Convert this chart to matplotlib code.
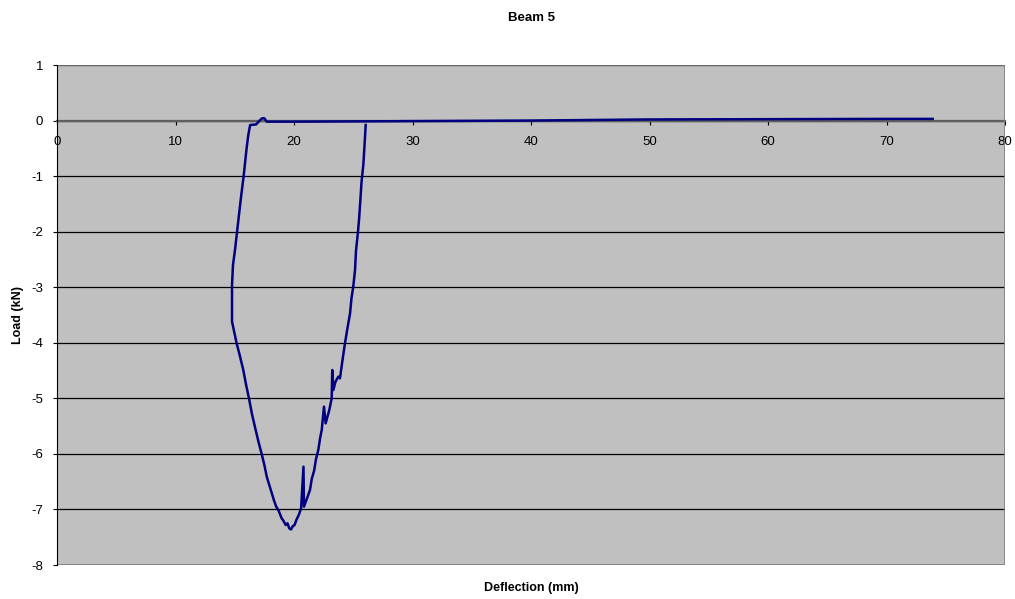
import matplotlib.pyplot as plt
from matplotlib.patches import Rectangle

plt.rcParams['font.family'] = ['Liberation Sans', 'DejaVu Sans']
plt.rcParams['axes.unicode_minus'] = False

# deflection (mm) / load (kN) in drawing order
defl = [26.05, 25.95, 25.85, 25.7, 25.6, 25.5, 25.4, 25.23, 25.15, 25.0, 24.85,
        24.73, 24.5, 24.3, 24.1, 23.88, 23.74, 23.5, 23.32, 23.23, 23.18, 22.98,
        22.67, 22.53, 22.34, 22.2, 22.05, 21.85, 21.7, 21.5, 21.35, 21.1, 20.84,
        20.8, 20.6, 20.4, 20.2, 20.05, 19.9, 19.75, 19.6, 19.45, 19.3, 19.1,
        18.96, 18.7, 18.5, 18.3, 18.0, 17.7, 17.5, 17.27, 17.0, 16.7, 16.45,
        16.2, 15.95, 15.72, 15.45, 15.16, 14.95, 14.77, 14.77, 14.85, 15.02,
        15.25, 15.5, 15.75, 16.0, 16.15, 16.3, 16.8, 17.1, 17.3, 17.5, 17.7,
        20.0, 30.0, 40.0, 50.0, 60.0, 70.0, 73.9]
load = [-0.08, -0.45, -0.8, -1.1, -1.43, -1.75, -2.0, -2.35, -2.69, -2.99, -3.2,
        -3.47, -3.75, -4.01, -4.3, -4.64, -4.61, -4.7, -4.85, -4.49, -5.0, -5.21,
        -5.45, -5.15, -5.57, -5.72, -5.93, -6.1, -6.3, -6.45, -6.65, -6.8, -6.95,
        -6.23, -6.98, -7.1, -7.19, -7.28, -7.3, -7.36, -7.34, -7.25, -7.28, -7.2,
        -7.16, -7.02, -6.95, -6.83, -6.62, -6.41, -6.2, -6.0, -5.78, -5.51, -5.28,
        -5.0, -4.75, -4.49, -4.25, -4.01, -3.8, -3.62, -2.96, -2.6, -2.33,
        -1.9, -1.43, -1.0, -0.5, -0.25, -0.08, -0.07, 0.0, 0.04, 0.04, -0.02,
        -0.02, -0.01, 0.0, 0.02, 0.025, 0.03, 0.03]

x_ticks = [0, 10, 20, 30, 40, 50, 60, 70, 80]
y_ticks = [-8, -7, -6, -5, -4, -3, -2, -1, 0, 1]

fig = plt.figure(figsize=(10.15, 5.99), dpi=100)
ax = fig.add_axes([57 / 1015, 1 - 565 / 599, 948 / 1015, 500 / 599])
ax.set_facecolor('#C0C0C0')

ax.plot(defl, load, color='#000080', lw=1.8, zorder=3)

ax.set_xlim(0, 80)
ax.set_ylim(-8, 1)
ax.set_xticks(x_ticks)
ax.set_yticks(y_ticks)
ax.yaxis.grid(True, color='black', lw=0.9)
ax.set_axisbelow(True)

# plot-area border in gray, value axis black, category axis through y=0
ax.add_patch(Rectangle((0, 0), 1, 1, transform=ax.transAxes, fill=False,
                       edgecolor='#808080', lw=1.2, zorder=2.6))
for s in ['top', 'right']:
    ax.spines[s].set_visible(False)
ax.spines['left'].set_color('black')
ax.spines['left'].set_zorder(2.7)
ax.spines['bottom'].set_position(('data', 0))
ax.spines['bottom'].set_color('#606060')
ax.spines['bottom'].set_linewidth(1.6)

ax.tick_params(axis='x', direction='out', length=3, width=0.8, pad=8,
               labelsize=9.5, color='black')
ax.tick_params(axis='y', direction='out', length=3, width=0.8, pad=7,
               labelsize=9.5)

fig.text(531 / 1015, 1 - 18 / 599, 'Beam 5', ha='center', va='center',
         fontsize=9.5, fontweight='bold')
fig.text(18 / 1015, 1 - 315 / 599, 'Load (kN)', ha='center', va='center',
         rotation=90, fontsize=9, fontweight='bold')
fig.text(531 / 1015, 1 - 588 / 599, 'Deflection (mm)', ha='center',
         va='center', fontsize=9, fontweight='bold')

fig.savefig('out.png', dpi=100)
